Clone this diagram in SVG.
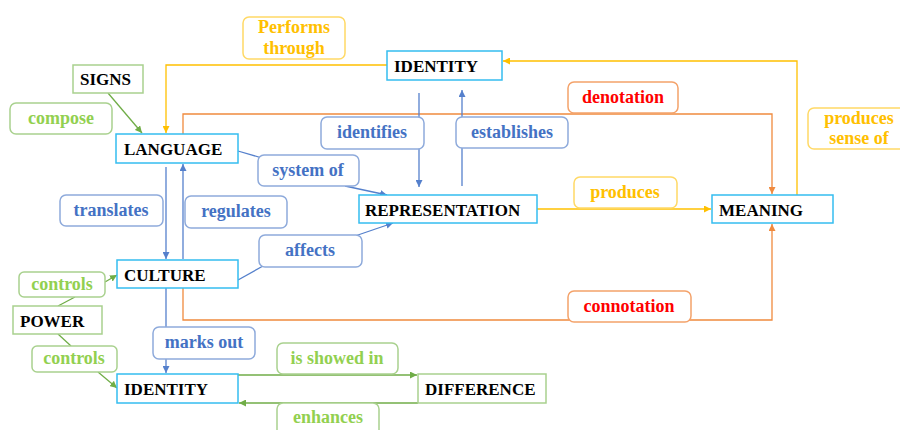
<svg xmlns="http://www.w3.org/2000/svg" width="900" height="430" viewBox="0 0 900 430">
<style>
.node{fill:#fff;stroke:#35bdf0;stroke-width:1.5}
.gnode{fill:#fff;stroke:#a9d18e;stroke-width:1.5}
.nt{font-family:"Liberation Serif",serif;font-weight:bold;font-size:17px;fill:#000}
.lt{font-family:"Liberation Serif",serif;font-weight:bold;font-size:18px;text-anchor:middle}
.bl{fill:#fff;stroke:#8eaadb;stroke-width:1.5}
.gl{fill:#fff;stroke:#a9d18e;stroke-width:1.5}
.yl{fill:#fff;stroke:#ffd966;stroke-width:1.5}
.ol{fill:#fff;stroke:#f4a26a;stroke-width:1.5}
.bt{fill:#4472c4}.gt{fill:#92d050}.yt{fill:#ffc000}.rt{fill:#ff0000}
.cb{fill:none;stroke:#5580cc;stroke-width:1.3}
.cg{fill:none;stroke:#70ad47;stroke-width:1.3}
.cy{fill:none;stroke:#ffc000;stroke-width:1.3}
.co{fill:none;stroke:#f08a3e;stroke-width:1.3}
</style>
<defs>
<marker id="ab" viewBox="0 0 10 10" refX="10" refY="5" markerWidth="7" markerHeight="7" orient="auto" markerUnits="userSpaceOnUse"><path d="M0,0L10,5L0,10z" fill="#5580cc"/></marker>
<marker id="ag" viewBox="0 0 10 10" refX="10" refY="5" markerWidth="7" markerHeight="7" orient="auto" markerUnits="userSpaceOnUse"><path d="M0,0L10,5L0,10z" fill="#70ad47"/></marker>
<marker id="ay" viewBox="0 0 10 10" refX="10" refY="5" markerWidth="7" markerHeight="7" orient="auto" markerUnits="userSpaceOnUse"><path d="M0,0L10,5L0,10z" fill="#ffc000"/></marker>
<marker id="ao" viewBox="0 0 10 10" refX="10" refY="5" markerWidth="7" markerHeight="7" orient="auto" markerUnits="userSpaceOnUse"><path d="M0,0L10,5L0,10z" fill="#f08a3e"/></marker>
</defs>
<g id="connectors">
<polyline class="cy" points="387,65 166,65 166,133" marker-end="url(#ay)"/>
<polyline class="cy" points="797,195 797,61 503,61" marker-end="url(#ay)"/>
<line class="cy" x1="537" y1="209" x2="711" y2="209" marker-end="url(#ay)"/>
<polyline class="co" points="183,134 183,114 772,114 772,194" marker-end="url(#ao)"/>
<polyline class="co" points="183,288 183,320 772,320 772,224" marker-end="url(#ao)"/>
<line class="cb" x1="419" y1="93" x2="419" y2="187" marker-end="url(#ab)"/>
<line class="cb" x1="462" y1="186" x2="462" y2="90" marker-end="url(#ab)"/>
<line class="cb" x1="238" y1="151" x2="262" y2="158"/>
<line class="cb" x1="345" y1="186" x2="387" y2="195" marker-end="url(#ab)"/>
<line class="cb" x1="166" y1="167" x2="166" y2="259" marker-end="url(#ab)"/>
<line class="cb" x1="183" y1="259" x2="183" y2="164" marker-end="url(#ab)"/>
<line class="cb" x1="238" y1="280" x2="263" y2="266"/>
<line class="cb" x1="355" y1="236" x2="393" y2="223" marker-end="url(#ab)"/>
<line class="cb" x1="166" y1="288" x2="166" y2="373" marker-end="url(#ab)"/>
<line class="cg" x1="108" y1="93" x2="142" y2="133" marker-end="url(#ag)"/>
<line class="cg" x1="105" y1="282" x2="117" y2="275" marker-end="url(#ag)"/>
<line class="cg" x1="58" y1="306" x2="75" y2="297"/>
<line class="cg" x1="58" y1="334" x2="71" y2="346"/>
<line class="cg" x1="98" y1="372" x2="117" y2="388" marker-end="url(#ag)"/>
<line class="cg" x1="238" y1="375" x2="417" y2="375" marker-end="url(#ag)"/>
<line class="cg" x1="418" y1="403" x2="239" y2="403" marker-end="url(#ag)"/>
</g>
<g id="labels">
<g id="lbl-performs"><rect class="yl" x="243" y="17" width="102" height="42" rx="6"/><text class="lt yt" x="294" y="33">Performs</text><text class="lt yt" x="294" y="54">through</text></g>
<g id="lbl-sense"><rect class="yl" x="808" y="108" width="100" height="41" rx="6"/><text class="lt yt" x="859" y="124">produces</text><text class="lt yt" x="859" y="144">sense of</text></g>
<g id="lbl-produces"><rect class="yl" x="574" y="177" width="103" height="31" rx="6"/><text class="lt yt" x="625" y="198">produces</text></g>
<g id="lbl-denotation"><rect class="ol" x="568" y="82" width="110" height="31" rx="6"/><text class="lt rt" x="623" y="103">denotation</text></g>
<g id="lbl-connotation"><rect class="ol" x="568" y="291" width="123" height="31" rx="6"/><text class="lt rt" x="629" y="312">connotation</text></g>
<g id="lbl-identifies"><rect class="bl" x="321" y="117" width="103" height="32" rx="6"/><text class="lt bt" x="372" y="138">identifies</text></g>
<g id="lbl-establishes"><rect class="bl" x="456" y="117" width="112" height="31" rx="6"/><text class="lt bt" x="512" y="138">establishes</text></g>
<g id="lbl-system"><rect class="bl" x="258" y="155" width="101" height="31" rx="6"/><text class="lt bt" x="308" y="176">system of</text></g>
<g id="lbl-translates"><rect class="bl" x="60" y="195" width="103" height="31" rx="6"/><text class="lt bt" x="111" y="216">translates</text></g>
<g id="lbl-regulates"><rect class="bl" x="185" y="196" width="102" height="32" rx="6"/><text class="lt bt" x="236" y="217">regulates</text></g>
<g id="lbl-affects"><rect class="bl" x="259" y="235" width="103" height="32" rx="6"/><text class="lt bt" x="310" y="256">affects</text></g>
<g id="lbl-marks"><rect class="bl" x="153" y="327" width="102" height="32" rx="6"/><text class="lt bt" x="204" y="348">marks out</text></g>
<g id="lbl-compose"><rect class="gl" x="10" y="103" width="102" height="31" rx="6"/><text class="lt gt" x="61" y="124">compose</text></g>
<g id="lbl-controls1"><rect class="gl" x="19" y="272" width="86" height="25" rx="5"/><text class="lt gt" x="62" y="290">controls</text></g>
<g id="lbl-controls2"><rect class="gl" x="32" y="346" width="85" height="26" rx="5"/><text class="lt gt" x="74" y="364">controls</text></g>
<g id="lbl-showed"><rect class="gl" x="277" y="343" width="121" height="31" rx="6"/><text class="lt gt" x="337" y="364">is showed in</text></g>
<g id="lbl-enhances"><rect class="gl" x="277" y="403" width="102" height="34" rx="6"/><text class="lt gt" x="328" y="423">enhances</text></g>
</g>
<g id="node-signs"><rect class="gnode" x="73" y="65" width="70" height="28"/><text class="nt" x="80" y="85">SIGNS</text></g>
<g id="node-language"><rect class="node" x="116" y="134" width="122" height="29"/><text class="nt" x="124" y="155">LANGUAGE</text></g>
<g id="node-identity-top"><rect class="node" x="387" y="51" width="115" height="29"/><text class="nt" x="394" y="72">IDENTITY</text></g>
<g id="node-representation"><rect class="node" x="359" y="195" width="178" height="28"/><text class="nt" x="365" y="216">REPRESENTATION</text></g>
<g id="node-meaning"><rect class="node" x="712" y="195" width="121" height="28"/><text class="nt" x="719" y="216">MEANING</text></g>
<g id="node-culture"><rect class="node" x="117" y="260" width="121" height="28"/><text class="nt" x="124" y="281">CULTURE</text></g>
<g id="node-power"><rect class="gnode" x="13" y="306" width="89" height="28"/><text class="nt" x="20" y="327">POWER</text></g>
<g id="node-identity-bottom"><rect class="node" x="117" y="374" width="121" height="29"/><text class="nt" x="124" y="395">IDENTITY</text></g>
<g id="node-difference"><rect class="gnode" x="418" y="374" width="128" height="29"/><text class="nt" x="425" y="395">DIFFERENCE</text></g>
</svg>
